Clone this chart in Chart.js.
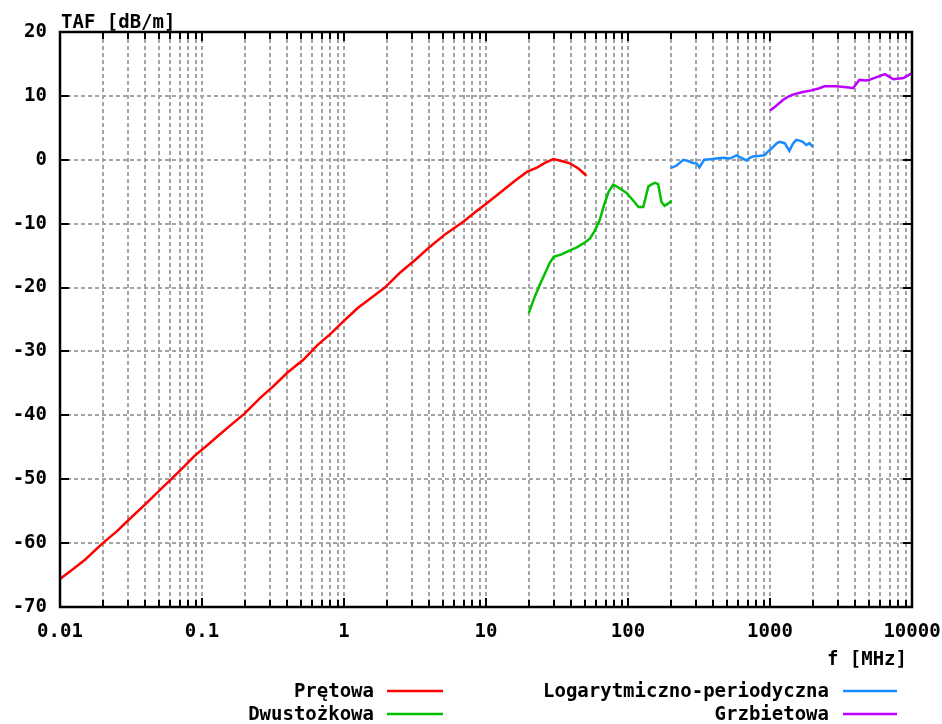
<!DOCTYPE html>
<html lang="pl">
<head>
<meta charset="UTF-8">
<title>TAF anten pomiarowych</title>
<script src="https://cdn.jsdelivr.net/npm/chart.js"></script>
<style>
  html, body { margin: 0; padding: 0; background: #fff; }
  .chart-box { position: relative; width: 942px; height: 724px; }
</style>
</head>
<body>
<div class="chart-box"><canvas id="tafChart"></canvas></div>
<script>
// osie
const xTickValues = [0.01, 0.1, 1, 10, 100, 1000, 10000];
const xTickLabels = ['0.01', '0.1', '1', '10', '100', '1000', '10000'];
const yTickValues = [-70, -60, -50, -40, -30, -20, -10, 0, 10, 20];

// antena prętowa
const pretowaF = [0.01, 0.012, 0.015, 0.02, 0.025, 0.03, 0.04, 0.05, 0.06, 0.075, 0.089, 0.11, 0.13, 0.16,
  0.2, 0.256, 0.32, 0.4, 0.517, 0.65, 0.8, 0.99, 1.25, 1.6, 1.94, 2.5, 3.2, 4.03, 5.2, 6.92, 8.5, 10.4,
  13, 16, 19.4, 23, 26, 29.8, 34, 39, 45, 51];
const pretowaTaf = [-65.6, -64.3, -62.6, -60.0, -58.2, -56.5, -53.9, -51.8, -50.1, -48.0, -46.3, -44.6, -43.2, -41.5,
  -39.7, -37.3, -35.4, -33.3, -31.3, -29.0, -27.3, -25.3, -23.2, -21.4, -20.0, -17.6, -15.6, -13.6, -11.6, -9.7, -8.1, -6.6,
  -4.9, -3.3, -1.9, -1.2, -0.5, 0.1, -0.2, -0.55, -1.4, -2.5];

// antena dwustożkowa
const dwustozkowaF = [20, 22, 24, 26, 28, 30, 34, 38, 43.6, 50, 54, 58, 63.3, 68, 73, 78.6, 85, 97.7,
  108, 118.6, 128, 139, 148, 155, 163, 172, 181, 190, 203];
const dwustozkowaTaf = [-24.0, -21.5, -19.5, -17.8, -16.2, -15.2, -14.8, -14.3, -13.7, -12.9, -12.3, -11.2, -9.4, -7.0, -5.0, -3.9, -4.3, -5.2,
  -6.3, -7.4, -7.4, -4.2, -3.8, -3.6, -3.8, -6.6, -7.2, -6.9, -6.4];

// antena logarytmiczno-periodyczna
const logperF = [200, 220, 245, 265, 286, 305, 318, 344, 380, 417, 470, 523, 580, 630, 682, 720, 758, 830,
  915, 970, 1050, 1120, 1170, 1270, 1370, 1450, 1530, 1620, 1700, 1800, 1900, 2000];
const logperTaf = [-1.3, -0.9, 0.0, -0.2, -0.5, -0.6, -1.2, 0.0, 0.1, 0.2, 0.3, 0.2, 0.7, 0.3, -0.1, 0.3, 0.5, 0.6,
  0.7, 1.3, 2.0, 2.6, 2.8, 2.6, 1.4, 2.5, 3.1, 3.0, 2.8, 2.3, 2.6, 2.0];

// antena grzbietowa
const grzbietowaF = [1000, 1085, 1240, 1350, 1450, 1700, 2000, 2225, 2420, 2930, 3600, 3840, 4260, 4750,
  5000, 5900, 6440, 6800, 7400, 8700, 9700, 10000];
const grzbietowaTaf = [7.7, 8.3, 9.4, 9.9, 10.2, 10.6, 10.9, 11.2, 11.5, 11.5, 11.3, 11.2, 12.5, 12.4,
  12.5, 13.1, 13.4, 13.1, 12.6, 12.8, 13.4, 13.5];

const FONT = 'bold 19px "DejaVu Sans Mono", "Liberation Mono", monospace';
const GRID = '#a4a4a4';

function toPoints(fs, vals) {
  return fs.map((f, i) => ({ x: f, y: vals[i] }));
}

// znaczniki logarytmiczne: dekady + 2..9 w każdej dekadzie
const xAllTicks = [];
xTickValues.forEach((d, i) => {
  xAllTicks.push(d);
  if (i < xTickValues.length - 1) {
    for (let m = 2; m <= 9; m++) xAllTicks.push(m * d);
  }
});

// ramka, znaczniki do wewnątrz, opisy osi i legenda w stylu gnuplota
const ramkaPlugin = {
  id: 'ramka',
  afterDraw(chart) {
    const ctx = chart.ctx;
    const a = chart.chartArea;
    const xs = chart.scales.x;
    const ys = chart.scales.y;
    ctx.save();
    ctx.strokeStyle = '#000';
    ctx.lineWidth = 2;
    ctx.beginPath();
    xs.ticks.forEach(t => {
      const px = Math.round(xs.getPixelForValue(t.value));
      const len = xTickValues.includes(t.value) ? 9 : 7;
      ctx.moveTo(px, a.bottom); ctx.lineTo(px, a.bottom - len);
      ctx.moveTo(px, a.top); ctx.lineTo(px, a.top + len);
    });
    ys.ticks.forEach(t => {
      const py = Math.round(ys.getPixelForValue(t.value));
      ctx.moveTo(a.left, py); ctx.lineTo(a.left + 9, py);
      ctx.moveTo(a.right, py); ctx.lineTo(a.right - 9, py);
    });
    ctx.stroke();
    ctx.lineWidth = 2.5;
    ctx.strokeRect(a.left, a.top, a.right - a.left, a.bottom - a.top);

    ctx.fillStyle = '#000';
    ctx.font = FONT;
    ctx.textBaseline = 'alphabetic';
    ctx.textAlign = 'left';
    ctx.fillText('TAF [dB/m]', a.left + 1, a.top - 4);
    ctx.textAlign = 'right';
    ctx.fillText('f [MHz]', a.right - 5, a.bottom + 58);

    // legenda: dwie kolumny, tekst wyrównany do prawej, potem próbka linii
    const colText = [374, 829];
    const colLine = [[387, 443], [843, 897]];
    const rowY = [691, 714];
    chart.data.datasets.forEach((ds, i) => {
      const c = Math.floor(i / 2), r = i % 2;
      ctx.fillStyle = '#000';
      ctx.textAlign = 'right';
      ctx.fillText(ds.label, colText[c], rowY[r] + 6);
      ctx.strokeStyle = ds.borderColor;
      ctx.lineWidth = 2.5;
      ctx.beginPath();
      ctx.moveTo(colLine[c][0], rowY[r]);
      ctx.lineTo(colLine[c][1], rowY[r]);
      ctx.stroke();
    });
    ctx.restore();
  }
};

const lineStyle = { borderWidth: 2.5, pointRadius: 0, tension: 0, fill: false };

new Chart(document.getElementById('tafChart'), {
  type: 'line',
  data: {
    datasets: [
      { label: 'Prętowa', data: toPoints(pretowaF, pretowaTaf), borderColor: '#ff0000', ...lineStyle },
      { label: 'Dwustożkowa', data: toPoints(dwustozkowaF, dwustozkowaTaf), borderColor: '#00c000', ...lineStyle },
      { label: 'Logarytmiczno-periodyczna', data: toPoints(logperF, logperTaf), borderColor: '#1a8cff', ...lineStyle },
      { label: 'Grzbietowa', data: toPoints(grzbietowaF, grzbietowaTaf), borderColor: '#c000ff', ...lineStyle }
    ]
  },
  options: {
    responsive: true,
    maintainAspectRatio: false,
    animation: false,
    layout: { padding: { top: 32, right: 30, left: 0, bottom: 0 } },
    plugins: {
      legend: { display: false },
      tooltip: { enabled: false }
    },
    scales: {
      x: {
        type: 'logarithmic',
        min: 0.01,
        max: 10000,
        afterBuildTicks: scale => { scale.ticks = xAllTicks.map(v => ({ value: v })); },
        afterFit: scale => {
          scale.height = 117;
          scale.paddingLeft = 0;
          scale.paddingRight = 30;
        },
        ticks: {
          autoSkip: false,
          maxRotation: 0,
          padding: 14,
          color: '#000',
          font: { family: '"DejaVu Sans Mono", monospace', size: 19, weight: 'bold' },
          callback: v => {
            const i = xTickValues.indexOf(v);
            return i >= 0 ? xTickLabels[i] : '';
          }
        },
        grid: { color: GRID, lineWidth: 2, drawTicks: false },
        border: { display: false, dash: [4, 3] }
      },
      y: {
        min: -70,
        max: 20,
        afterBuildTicks: scale => { scale.ticks = yTickValues.map(v => ({ value: v })); },
        afterFit: scale => { scale.width = 60; },
        ticks: {
          padding: 13,
          color: '#000',
          font: { family: '"DejaVu Sans Mono", monospace', size: 19, weight: 'bold' },
          callback: v => String(v)
        },
        grid: { color: GRID, lineWidth: 2, drawTicks: false },
        border: { display: false, dash: [4, 3] }
      }
    }
  },
  plugins: [ramkaPlugin]
});
</script>
</body>
</html>
